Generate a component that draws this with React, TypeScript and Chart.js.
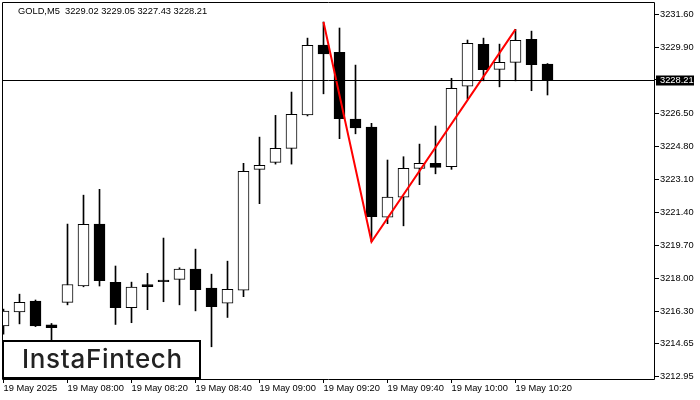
import { useEffect, useRef } from "react";
import { Chart, registerables } from "chart.js";

Chart.register(...registerables);

const symbolTitle = "GOLD,M5  3229.02 3229.05 3227.43 3228.21";
const brandName = "InstaFintech";

const opens = [
  3215.54, 3216.26, 3216.81, 3215.59, 3216.75, 3217.6, 3220.78, 3217.78, 3216.47, 3217.67,
  3217.9, 3217.93, 3218.46, 3217.48, 3216.7, 3217.37, 3223.6, 3223.96, 3224.68, 3226.4,
  3230.0, 3229.63, 3226.19, 3225.78, 3221.13, 3222.16, 3223.65, 3223.91, 3223.74, 3227.88,
  3230.04, 3228.75, 3229.11, 3230.3, 3229.02,
];
const highs = [
  3216.4, 3217.17, 3216.87, 3215.66, 3220.78, 3222.27, 3222.57, 3218.62, 3217.79, 3218.24,
  3220.06, 3218.53, 3219.49, 3218.2, 3218.87, 3223.91, 3225.26, 3226.38, 3227.58, 3230.36,
  3231.19, 3230.88, 3228.97, 3225.97, 3224.08, 3224.25, 3224.9, 3225.83, 3228.29, 3230.26,
  3230.36, 3230.05, 3230.81, 3230.72, 3229.05,
];
const lows = [
  3215.11, 3215.64, 3215.5, 3214.5, 3216.62, 3217.55, 3217.59, 3215.61, 3215.7, 3216.37,
  3216.78, 3216.62, 3216.31, 3214.46, 3215.97, 3217.04, 3221.83, 3223.87, 3223.87, 3226.35,
  3227.49, 3225.18, 3225.43, 3219.87, 3220.8, 3220.69, 3222.81, 3223.37, 3223.6, 3227.22,
  3228.16, 3227.85, 3228.16, 3227.65, 3227.43,
];
const closes = [
  3216.3, 3216.75, 3215.54, 3215.44, 3217.67, 3220.77, 3217.86, 3216.47, 3217.54, 3217.55,
  3217.81, 3218.46, 3217.4, 3216.52, 3217.42, 3223.5, 3223.81, 3224.68, 3226.43, 3229.99,
  3229.55, 3226.21, 3225.74, 3221.16, 3222.17, 3223.65, 3223.91, 3223.7, 3227.77, 3230.09,
  3228.73, 3229.11, 3230.25, 3228.99, 3228.21,
];

const xTickIndex = [0, 4, 8, 12, 16, 20, 24, 28, 32];
const xTickLabels = [
  "19 May 2025",
  "19 May 08:00",
  "19 May 08:20",
  "19 May 08:40",
  "19 May 09:00",
  "19 May 09:20",
  "19 May 09:40",
  "19 May 10:00",
  "19 May 10:20",
];
const yTickValues = [
  3231.6, 3229.9, 3228.21, 3226.5, 3224.8, 3223.1, 3221.4, 3219.7, 3218.0, 3216.3, 3214.65,
  3212.95,
];
const lastPrice = 3228.21;
const patternIdx = [20, 23, 32];
const patternKind = ["high", "low", "high"];

const FONT = '"Liberation Sans", Arial, sans-serif';

function zeroPadding(scale: any) {
  scale.paddingTop = 0;
  scale.paddingBottom = 0;
  scale.paddingLeft = 0;
  scale.paddingRight = 0;
}

export default function App() {
  const ref = useRef<HTMLCanvasElement | null>(null);

  useEffect(() => {
    const canvas = ref.current;
    if (!canvas) return;

    const bodies = opens.map((o, i) => ({ x: i, y: [o, closes[i]] }));
    const wicks = lows.map((l, i) => ({ x: i, y: [l, highs[i]] }));
    const bodyColors = opens.map((o, i) => (closes[i] >= o ? "#ffffff" : "#000000"));
    const pattern = patternIdx.map((idx, k) => ({
      x: idx,
      y: patternKind[k] === "high" ? highs[idx] : lows[idx],
    }));

    const overlay = {
      id: "mtOverlay",
      afterDraw(chart: any) {
        const { ctx, chartArea } = chart;
        const ys = chart.scales.y;
        ctx.save();
        const py = Math.round(ys.getPixelForValue(lastPrice)) + 0.5;
        ctx.strokeStyle = "#000";
        ctx.lineWidth = 1;
        ctx.beginPath();
        ctx.moveTo(chartArea.left, py);
        ctx.lineTo(chartArea.right, py);
        ctx.stroke();
        ctx.beginPath();
        ctx.rect(2.5, 2.5, 652, 377);
        ctx.stroke();
        ctx.fillStyle = "#000";
        ctx.fillRect(656, py - 5, 38, 10);
        ctx.fillStyle = "#fff";
        ctx.font = `9.3px ${FONT}`;
        ctx.textBaseline = "middle";
        ctx.textAlign = "left";
        ctx.fillText(lastPrice.toFixed(2), 660, py);
        ctx.fillStyle = "#000";
        ctx.fillText(symbolTitle, 18, 11);
        ctx.fillStyle = "#fff";
        ctx.fillRect(2, 340, 199, 39);
        ctx.strokeStyle = "#000";
        ctx.lineWidth = 2;
        ctx.strokeRect(3, 341, 197, 37);
        ctx.fillStyle = "#222";
        ctx.font = '500 26px Inter, "Noto Sans", sans-serif';
        (ctx as any).letterSpacing = "0.7px";
        ctx.textBaseline = "alphabetic";
        ctx.fillText(brandName, 22, 368);
        ctx.restore();
      },
    };

    const chart = new Chart(canvas, {
      type: "bar",
      data: {
        datasets: [
          {
            type: "line",
            data: pattern,
            borderColor: "#ff0000",
            borderWidth: 2,
            pointRadius: 0,
            fill: false,
            order: 0,
          } as any,
          {
            data: bodies,
            backgroundColor: bodyColors,
            borderColor: "#000",
            borderWidth: 1,
            borderSkipped: false,
            barThickness: 11,
            grouped: false,
            order: 1,
          } as any,
          {
            data: wicks,
            backgroundColor: "#000",
            borderWidth: 0,
            barThickness: 1,
            grouped: false,
            order: 2,
          } as any,
        ],
      },
      options: {
        animation: false,
        responsive: true,
        maintainAspectRatio: false,
        layout: { padding: { left: 2, top: 2, right: 0, bottom: 0 } },
        plugins: { legend: { display: false }, tooltip: { enabled: false }, title: { display: false } },
        scales: {
          x: {
            type: "linear",
            min: -0.09375,
            max: 40.71875,
            offset: false,
            grid: {
              display: true,
              drawOnChartArea: false,
              drawTicks: true,
              tickLength: 4,
              color: "#000",
              offset: false,
            },
            border: { display: false },
            afterBuildTicks(scale: any) {
              scale.ticks = xTickIndex.map((v) => ({ value: v }));
            },
            afterFit(scale: any) {
              scale.height = 21;
              zeroPadding(scale);
            },
            ticks: {
              autoSkip: false,
              maxRotation: 0,
              minRotation: 0,
              align: "start",
              padding: 0,
              color: "#000",
              font: { family: FONT, size: 9.3 },
              callback: (_v: any, i: number) => xTickLabels[i],
            },
          },
          y: {
            type: "linear",
            position: "right",
            min: 3212.8,
            max: 3232.22,
            grid: {
              display: true,
              drawOnChartArea: false,
              drawTicks: true,
              tickLength: 4,
              color: "#000",
            },
            border: { display: false },
            afterBuildTicks(scale: any) {
              scale.ticks = yTickValues.map((v) => ({ value: v }));
            },
            afterFit(scale: any) {
              scale.width = 45;
              zeroPadding(scale);
            },
            ticks: {
              autoSkip: false,
              padding: 1,
              color: (c: any) =>
                c.tick && Math.abs(c.tick.value - lastPrice) < 1e-6 ? "rgba(0,0,0,0)" : "#000",
              font: { family: FONT, size: 9.3 },
              callback: (v: any) => Number(v).toFixed(2),
            },
          },
        },
      },
      plugins: [overlay],
    });

    return () => chart.destroy();
  }, []);

  return (
    <div style={{ position: "fixed", left: 0, top: 0, width: 700, height: 400, background: "#fff" }}>
      <canvas ref={ref} />
    </div>
  );
}
